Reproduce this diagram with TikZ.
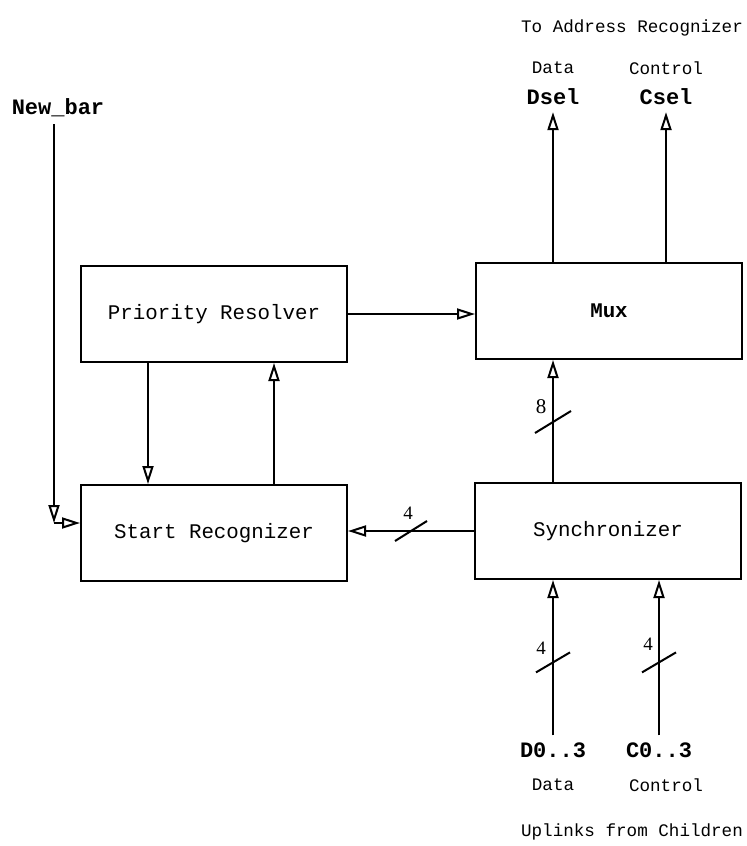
\documentclass[tikz,border=0pt]{standalone}
\usepackage{fontspec}
\setmonofont{Liberation Mono}
\newfontfamily\numfont{Liberation Serif}
\usetikzlibrary{arrows.meta, positioning, calc}

\tikzset{
  block/.style={draw, line width=1pt, minimum width=133pt, minimum height=48pt,
                font=\ttfamily\fontsize{10.4}{12}\selectfont},
  sig/.style={line width=1pt, -{Triangle[open, length=9pt, width=5.5pt]}},
  pinname/.style={font=\ttfamily\bfseries\fontsize{11}{13}\selectfont},
  side/.style={font=\ttfamily\fontsize{8.8}{10}\selectfont},
  width/.style={font=\numfont\fontsize{9.5}{11}\selectfont, inner sep=0pt}
}

\begin{document}
\begin{tikzpicture}[x=0.5pt, y=-0.5pt]
  \useasboundingbox (0,0) rectangle (746,846);

  % blocks
  \node[block] (pr)   at (214,314) {Priority Resolver};
  \node[block] (mux)  at (609,311) {\textbf{Mux}};
  \node[block] (sr)   at (214,533) {Start Recognizer};
  \node[block] (sync) at (608,531) {Synchronizer};

  % outputs to address recognizer
  \node[side] (toar) at (632,28) {To Address Recognizer};
  \node[side] (dlab) at (553,68) {Data};
  \node[side] (clab) at (666,68) {Control};
  \node[pinname] (dsel) at (553,97) {Dsel};
  \node[pinname] (csel) at (666,97) {Csel};
  \draw[sig] (dsel |- mux.north) -- (dsel.south);
  \draw[sig] (csel |- mux.north) -- (csel.south);

  % uplinks
  \node[pinname] (dsrc) at (553,750) {D0..3};
  \node[pinname] (csrc) at (659,750) {C0..3};
  \node[side] (dlab2) at (553,785) {Data};
  \node[side] (clab2) at (666,785) {Control};
  \node[side] (upl) at (632,832) {Uplinks from Children};
  \draw[sig] (dsrc.north) -- coordinate[pos=0.47] (bd) (dsrc |- sync.south);
  \draw[sig] (csrc.north) -- coordinate[pos=0.47] (bc) (csrc |- sync.south);
  \draw[line width=1pt] ($(bd)+(-17,10)$) -- ($(bd)+(17,-10)$);
  \draw[line width=1pt] ($(bc)+(-17,10)$) -- ($(bc)+(17,-10)$);
  \node[width] at ($(bd)+(-12,-14)$) {4};
  \node[width] at ($(bc)+(-11,-18)$) {4};

  % new_bar
  \node[pinname] (newbar) at (58,108) {New\_bar};
  \coordinate (nb) at (54,523);
  \draw[sig] (newbar.south -| nb) -- (nb);
  \draw[sig] (nb) -- (nb -| sr.west);

  % internal paths
  \draw[sig] (pr.east) -- (pr.east -| mux.west);
  \draw[sig] ($(pr.south west)+(68,0)$) -- ($(sr.north west)+(68,0)$);
  \draw[sig] ($(sr.north west)+(194,0)$) -- ($(pr.south west)+(194,0)$);
  \draw[sig] (sync.west) -- coordinate[pos=0.5] (bs) (sync.west -| sr.east);
  \draw[line width=1pt] ($(bs)+(-16,10)$) -- ($(bs)+(16,-10)$);
  \node[width] at ($(bs)+(-3,-18)$) {4};
  \draw[sig] (dsel |- sync.north) -- coordinate[pos=0.5] (bm) (dsel |- mux.south);
  \draw[line width=1pt] ($(bm)+(-18,12)$) -- ($(bm)+(18,-10)$);
  \node[width, font=\numfont\fontsize{10.5}{12}\selectfont] at ($(bm)+(-12,-14)$) {8};
\end{tikzpicture}
\end{document}
